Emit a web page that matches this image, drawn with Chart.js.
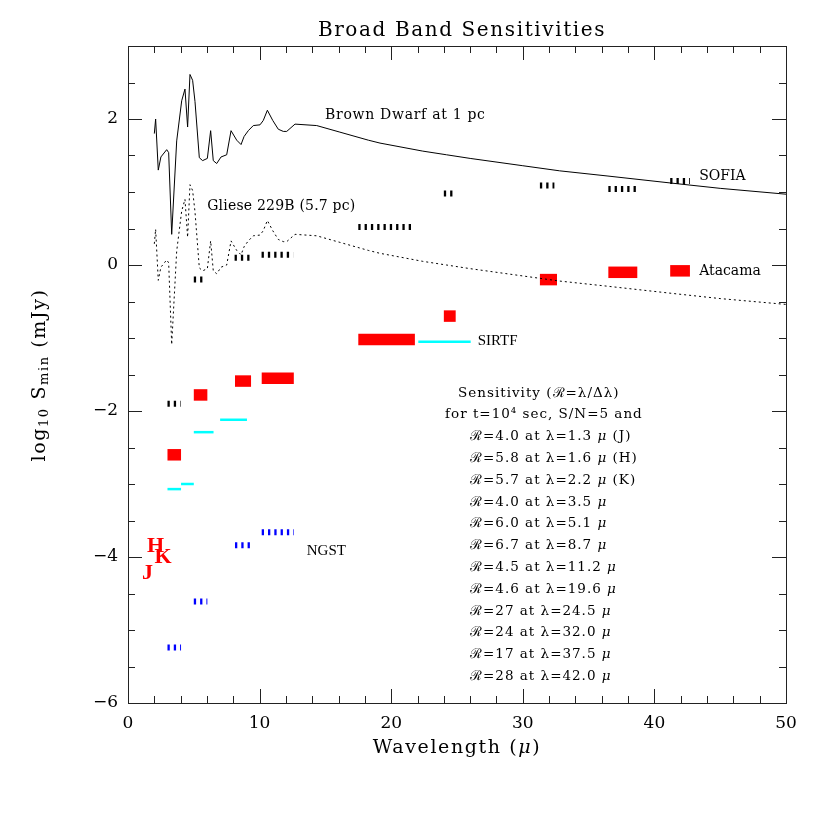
<!DOCTYPE html>
<html>
<head>
<meta charset="utf-8">
<script src="https://cdn.jsdelivr.net/npm/chart.js@4.4.1/dist/chart.umd.min.js"></script>
<style>
  body { margin: 0; background: #fff; }
  canvas { display: block; }
</style>
</head>
<body>
<canvas id="chart" width="830" height="830"></canvas>
<script>
// wavelength grid (micron) for the two model spectra
const wavelength = [2.0, 2.1, 2.3, 2.5, 2.94, 3.09, 3.32, 3.7, 4.08, 4.33, 4.53, 4.71, 4.91, 5.09, 5.42, 5.67,
  6.03, 6.28, 6.48, 6.74, 7.07, 7.5, 7.83, 8.26, 8.59, 8.82, 9.14, 9.52, 10.03, 10.28, 10.59, 11.0, 11.42,
  11.8, 12.06, 12.69, 14.34, 16.1, 18.26, 19.15, 22.4, 24.2, 26, 30, 32.8, 36.4, 41.4, 45, 50];
// log10 flux (mJy)
const brownDwarf = [1.80, 2.00, 1.30, 1.48, 1.58, 1.54, 0.42, 1.70, 2.25, 2.41, 1.89, 2.61, 2.53, 2.24, 1.47, 1.43,
  1.46, 1.84, 1.43, 1.39, 1.48, 1.51, 1.84, 1.71, 1.65, 1.76, 1.84, 1.91, 1.92, 1.98, 2.12, 1.98, 1.86,
  1.83, 1.83, 1.93, 1.91, 1.82, 1.71, 1.67, 1.56, 1.51, 1.46, 1.36, 1.29, 1.22, 1.12, 1.05, 0.97];
const gliese229B = [0.29, 0.49, -0.21, -0.03, 0.07, 0.03, -1.09, 0.19, 0.74, 0.90, 0.38, 1.10, 1.02, 0.73, -0.04, -0.08,
  -0.05, 0.33, -0.08, -0.12, -0.03, 0.00, 0.33, 0.20, 0.14, 0.25, 0.33, 0.40, 0.41, 0.47, 0.61, 0.47, 0.35,
  0.32, 0.32, 0.42, 0.40, 0.31, 0.20, 0.16, 0.05, 0.00, -0.05, -0.15, -0.22, -0.29, -0.39, -0.46, -0.54];

// bands: [lambda low, lambda high, log10 S_min]
const sofiaBands = [[3.0, 4.0, -1.90], [5.0, 5.95, -0.20], [8.1, 9.3, 0.10], [10.15, 12.55, 0.14],
  [17.5, 21.8, 0.52], [24.0, 24.75, 0.98], [31.3, 32.4, 1.09], [36.5, 38.6, 1.04], [41.2, 42.7, 1.15]];
const atacamaBands = [[3.0, 4.03, -2.60], [5.0, 6.03, -1.78], [8.13, 9.35, -1.59], [10.16, 12.6, -1.55],
  [17.5, 21.8, -1.02], [24.0, 24.9, -0.70], [31.3, 32.6, -0.20], [36.5, 38.7, -0.10], [41.2, 42.7, -0.08]];
const sirtfBands = [[3.0, 4.03, -3.07], [4.03, 5.0, -3.00], [5.0, 6.5, -2.29], [7.0, 9.04, -2.12], [22.06, 26.04, -1.05]];
const ngstBands = [[3.0, 4.03, -5.24], [5.0, 6.03, -4.61], [8.13, 9.27, -3.84], [10.16, 12.6, -3.66]];

// J, H, K sensitivities plotted as letters
const nirLetters = ['J', 'H', 'K'];
const nirX = [1.48, 2.09, 2.66];
const nirY = [-4.22, -3.86, -4.01];

const xTicks = [0, 10, 20, 30, 40, 50];
const yTicks = [-6, -4, -2, 0, 2];

const noteLines = [
  'Sensitivity (ℛ=λ/Δλ)',
  'for t=10⁴ sec, S/N=5 and',
  'ℛ=4.0 at λ=1.3 μ (J)',
  'ℛ=5.8 at λ=1.6 μ (H)',
  'ℛ=5.7 at λ=2.2 μ (K)',
  'ℛ=4.0 at λ=3.5 μ',
  'ℛ=6.0 at λ=5.1 μ',
  'ℛ=6.7 at λ=8.7 μ',
  'ℛ=4.5 at λ=11.2 μ',
  'ℛ=4.6 at λ=19.6 μ',
  'ℛ=27 at λ=24.5 μ',
  'ℛ=24 at λ=32.0 μ',
  'ℛ=17 at λ=37.5 μ',
  'ℛ=28 at λ=42.0 μ'
];

const SERIF = '"DejaVu Serif", serif';
const TIMES = '"Liberation Serif", serif';

function bandSets(bands, color, width, dash) {
  return bands.map(b => ({
    data: [{ x: b[0], y: b[2] }, { x: b[1], y: b[2] }],
    borderColor: color,
    borderWidth: width,
    borderDash: dash,
    borderCapStyle: 'butt',
    pointRadius: 0,
    showLine: true
  }));
}

const curve = vals => wavelength.map((w, i) => ({ x: w, y: vals[i] }));

// draws text, putting every mu in italics
function muText(ctx, str, x, y, size, align, spacing) {
  ctx.letterSpacing = (spacing || 0) + 'px';
  const parts = str.split('μ');
  const up = size + 'px ' + SERIF;
  const it = 'italic ' + size + 'px ' + SERIF;
  let w = 0;
  parts.forEach((p, i) => {
    ctx.font = up; w += ctx.measureText(p).width;
    if (i < parts.length - 1) { ctx.font = it; w += ctx.measureText('μ').width; }
  });
  let cx = align === 'center' ? x - w / 2 : x;
  ctx.textAlign = 'left';
  parts.forEach((p, i) => {
    ctx.font = up; ctx.fillText(p, cx, y); cx += ctx.measureText(p).width;
    if (i < parts.length - 1) { ctx.font = it; ctx.fillText('μ', cx, y); cx += ctx.measureText('μ').width; }
  });
  ctx.letterSpacing = '0px';
}

const decorations = {
  id: 'decorations',
  afterDraw(chart) {
    const { ctx, chartArea: a, scales: { x, y } } = chart;
    ctx.save();
    // frame and inward ticks
    ctx.strokeStyle = '#222';
    ctx.lineWidth = 1;
    ctx.strokeRect(a.left + 0.5, a.top + 0.5, a.right - a.left, a.bottom - a.top);
    ctx.beginPath();
    for (let v = 0; v <= 50; v += 2) {
      const px = Math.round(x.getPixelForValue(v)) + 0.5;
      const len = v % 10 === 0 ? 14 : 7;
      ctx.moveTo(px, a.bottom); ctx.lineTo(px, a.bottom - len);
      ctx.moveTo(px, a.top); ctx.lineTo(px, a.top + len);
    }
    for (let v = -6; v <= 3; v += 0.5) {
      const py = Math.round(y.getPixelForValue(v)) + 0.5;
      const len = v % 2 === 0 ? 14 : 7;
      ctx.moveTo(a.left, py); ctx.lineTo(a.left + len, py);
      ctx.moveTo(a.right, py); ctx.lineTo(a.right - len, py);
    }
    ctx.stroke();

    ctx.fillStyle = '#000';
    ctx.textBaseline = 'middle';

    // title and axis titles
    ctx.textAlign = 'center';
    ctx.font = '20px ' + SERIF;
    ctx.letterSpacing = '1.6px';
    ctx.fillText('Broad Band Sensitivities', (a.left + a.right) / 2 + 5, 31);
    ctx.letterSpacing = '0px';
    muText(ctx, 'Wavelength (μ)', (a.left + a.right) / 2, 748, 19, 'center', 1.6);

    ctx.save();
    ctx.translate(40, 375);
    ctx.rotate(-Math.PI / 2);
    ctx.letterSpacing = '1.6px';
    const yParts = [['log', 19, 0], ['10', 13, 5], [' S', 19, 0], ['min', 13, 5], [' (mJy)', 19, 0]];
    let tw = 0;
    yParts.forEach(p => { ctx.font = p[1] + 'px ' + SERIF; tw += ctx.measureText(p[0]).width; });
    let cx = -tw / 2;
    ctx.textAlign = 'left';
    yParts.forEach(p => {
      ctx.font = p[1] + 'px ' + SERIF;
      ctx.fillText(p[0], cx, p[2]);
      cx += ctx.measureText(p[0]).width;
    });
    ctx.restore();

    // curve and instrument labels
    const label = (t, lx, ly, font, sp) => {
      ctx.font = font;
      ctx.letterSpacing = (sp || 0) + 'px';
      ctx.textAlign = 'left';
      ctx.fillText(t, x.getPixelForValue(lx), y.getPixelForValue(ly));
      ctx.letterSpacing = '0px';
    };
    label('Brown Dwarf at 1 pc', 14.97, 2.05, '14px ' + SERIF, 0.7);
    label('Gliese 229B (5.7 pc)', 6.02, 0.80, '14px ' + SERIF, 0.2);
    label('SOFIA', 43.4, 1.21, '14px ' + SERIF);
    label('Atacama', 43.4, -0.09, '14px ' + SERIF);
    label('SIRTF', 26.57, -1.04, '15px ' + TIMES);
    label('NGST', 13.58, -3.92, '15px ' + TIMES);

    // J H K letters
    ctx.fillStyle = '#f00';
    ctx.textAlign = 'center';
    ctx.font = 'bold 22px ' + TIMES;
    nirLetters.forEach((t, i) => {
      ctx.fillText(t, x.getPixelForValue(nirX[i]), y.getPixelForValue(nirY[i]));
    });

    // sensitivity notes
    ctx.fillStyle = '#000';
    const noteLeft = [25.08, 24.09];
    const y0 = y.getPixelForValue(-1.755);
    noteLines.forEach((t, i) => {
      const lx = x.getPixelForValue(i < 2 ? noteLeft[i] : 25.99);
      muText(ctx, t, lx, y0 + i * 21.8, 13.5, 'left', 1);
    });
    ctx.restore();
  }
};

const datasets = [
  { data: curve(brownDwarf), borderColor: '#000', borderWidth: 1, pointRadius: 0, showLine: true },
  { data: curve(gliese229B), borderColor: '#000', borderWidth: 1, borderDash: [2, 3], pointRadius: 0, showLine: true },
  ...bandSets(sofiaBands, '#000', 6, [2.3, 4]),
  ...bandSets(atacamaBands, '#f00', 11.5, []),
  ...bandSets(sirtfBands, '#0ff', 2.5, []),
  ...bandSets(ngstBands, '#00f', 6, [2.3, 4])
];

new Chart(document.getElementById('chart'), {
  type: 'scatter',
  data: { datasets },
  options: {
    responsive: false,
    animation: false,
    layout: { padding: { left: 0, right: 44, top: 46, bottom: 0 } },
    plugins: { legend: { display: false }, title: { display: false }, tooltip: { enabled: false } },
    elements: { line: { tension: 0, fill: false } },
    scales: {
      x: {
        type: 'linear', min: 0, max: 50,
        grid: { display: false, drawTicks: false },
        border: { display: false },
        afterFit: s => { s.height = 127; },
        afterBuildTicks: s => { s.ticks = xTicks.map(v => ({ value: v })); },
        ticks: { padding: 10, color: '#000', font: { family: SERIF, size: 17 }, maxRotation: 0 }
      },
      y: {
        type: 'linear', min: -6, max: 3,
        grid: { display: false, drawTicks: false },
        border: { display: false },
        afterFit: s => { s.width = 128; },
        afterBuildTicks: s => { s.ticks = yTicks.map(v => ({ value: v })); },
        ticks: {
          padding: 10, color: '#000', font: { family: SERIF, size: 17 },
          callback: v => String(v).replace('-', '\u2212')
        }
      }
    }
  },
  plugins: [decorations]
});
</script>
</body>
</html>
